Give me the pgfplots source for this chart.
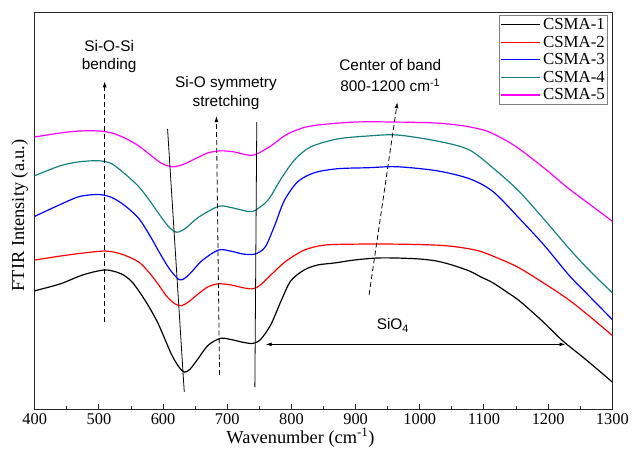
\documentclass[border=0pt]{standalone}
\usepackage{fontspec}
\setmainfont{Liberation Serif}
\newfontfamily\arial{Liberation Sans}
\usepackage{pgfplots}
\pgfplotsset{compat=1.18}
\usetikzlibrary{arrows.meta}
\definecolor{cteal}{RGB}{20,128,128}
\definecolor{cmag}{RGB}{255,0,255}

\begin{document}
\begin{tikzpicture}
\begin{axis}[%
scale only axis,
width=582pt,
height=400pt,
xmin=400, xmax=1300,
ymin=0, ymax=400,
xtick={400,500,...,1300},
minor x tick num=1,
ytick=\empty,
xtick pos=bottom,
tick align=inside,
major tick length=6pt,
minor tick length=3.5pt,
axis line style={line width=1.2pt, draw=black!85},
tick style={line width=1pt, black!85},
/pgf/number format/assume math mode=true,
/pgf/number format/1000 sep={},
x tick label style={font=\fontsize{16.5}{18}\selectfont},
xlabel={Wavenumber (cm\textsuperscript{-1})},
xlabel style={font=\fontsize{18.5}{20}\selectfont, at={(axis description cs:0.46,-0.07)}, anchor=center},
ylabel={FTIR Intensity (a.u.)},
ylabel style={font=\fontsize{18.5}{20}\selectfont, at={(axis description cs:-0.026,0.49)}, anchor=center},
legend style={at={(rel axis cs:0.993,0.995)}, anchor=north east, draw=gray, line width=0.8pt,
  font=\fontsize{17}{19}\selectfont, inner sep=1pt, row sep=1pt, legend cell align=left},
legend image code/.code={\draw[#1, line width=1.2pt] (0pt,0pt) -- (40pt,0pt);},
]
\addplot [black, line width=1.2pt, smooth] coordinates {
(400,120) (440,127) (475,136) (510,141) (535,137) (550,130) (562,120) (577,105)
(593,86) (613,56) (625,43) (633,38) (642,41) (655,52) (670,65) (689,72)
(705,71) (725,68) (740,67) (752,71) (768,86) (784,110) (799,130) (820,141)
(841,146) (867,148) (898,151) (933,153) (964,153) (1000,152) (1026,150)
(1050,146) (1077,140) (1095,134) (1114,128) (1135,119) (1155,110) (1190,90)
(1222,70) (1260,50) (1300,28)};
\addlegendentry{CSMA-1}
\addplot [red, line width=1.2pt, smooth] coordinates {
(400,151) (440,155) (475,158) (510,160) (535,157) (562,149) (580,137) (593,126)
(605,115) (618,107) (629,105) (640,109) (655,117) (670,124) (686,127) (705,126)
(725,123) (740,122) (752,126) (768,136) (781,144) (794,151) (820,161) (851,166)
(900,167) (964,167) (1026,166) (1060,164) (1093,160) (1125,152) (1155,143)
(1195,127) (1232,111) (1265,94) (1300,75)};
\addlegendentry{CSMA-2}
\addplot [blue, line width=1.2pt, smooth] coordinates {
(400,195) (440,207) (470,215) (500,217) (520,214) (540,206) (562,193) (580,175)
(593,160) (610,142) (626,131) (640,136) (660,150) (686,161) (705,160) (725,157)
(743,157) (759,164) (774,186) (789,211) (810,230) (836,239) (872,243) (920,244)
(964,245) (1026,241) (1077,233) (1114,220) (1155,193) (1195,165) (1232,136)
(1265,114) (1300,91)};
\addlegendentry{CSMA-3}
\addplot [cteal, line width=1.2pt, smooth] coordinates {
(400,236) (440,246) (470,250) (500,251) (520,248) (540,238) (562,225) (580,210)
(593,198) (608,185) (621,179) (635,183) (655,194) (686,205) (705,204) (725,201)
(740,200) (763,211) (784,233) (805,252) (830,265) (872,273) (920,276) (964,277)
(1026,271) (1077,262) (1119,241) (1155,220) (1195,191) (1232,163) (1265,140)
(1300,118)};
\addlegendentry{CSMA-4}
\addplot [cmag, line width=1.2pt, smooth] coordinates {
(400,275) (440,279) (470,281) (500,281) (520,279) (540,274) (562,266) (580,257)
(596,249) (613,245) (630,247) (650,253) (670,259) (690,261) (710,260) (730,257)
(743,257) (768,266) (794,278) (830,286) (898,290) (964,290) (1026,289)
(1070,286) (1104,281) (1130,273) (1155,263) (1195,243) (1232,223) (1265,207)
(1300,190)};
\addlegendentry{CSMA-5}

% annotations
\draw [black, line width=0.8pt, dash pattern=on 5pt off 3pt, -{Latex[length=6pt,width=4pt]}] (509,89) -- (509,331);
\draw [black, line width=0.8pt, dash pattern=on 5pt off 3pt, -{Latex[length=6pt,width=4pt]}] (688,35) -- (683,296);
\draw [black, line width=0.8pt, dash pattern=on 5pt off 3pt, -{Latex[length=6pt,width=4pt]}] (921,116) -- (965,310);
\draw [black, line width=0.8pt] (607,283) -- (633,18);
\draw [black, line width=0.8pt] (746,290) -- (743,23);
\draw [black, line width=0.8pt, {Latex[length=6pt,width=4pt]}-{Latex[length=6pt,width=4pt]}] (760,66) -- (1227,66);
\node [font=\arial\fontsize{15.5}{19}\selectfont, align=center] at (516,356) {Si-O-Si\\bending};
\node [font=\arial\fontsize{15.5}{19}\selectfont, align=center] at (698,319) {Si-O symmetry\\stretching};
\node [font=\arial\fontsize{15.5}{21}\selectfont, align=center] at (954,337) {Center of band\\800-1200 cm\textsuperscript{-1}};
\node [font=\arial\fontsize{15.5}{19}\selectfont] at (958,85) {SiO\textsubscript{4}};
\end{axis}
\path (-35pt,-49pt) rectangle (597pt,413pt);
\end{tikzpicture}
\end{document}
